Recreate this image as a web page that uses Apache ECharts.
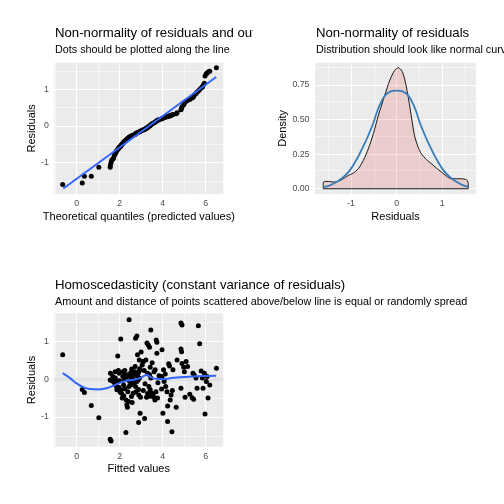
<!DOCTYPE html>
<html><head><meta charset="utf-8">
<script src="https://cdn.jsdelivr.net/npm/echarts@6/dist/echarts.min.js"></script>
<style>html,body{margin:0;padding:0;background:#fff}#c{width:504px;height:504px}</style>
</head><body><div id="c"></div>
<script>
// ---------- Panel 1: QQ plot ----------
const qqX = [-0.65,0.26,0.36,0.68,1.03,1.56,1.57,1.60,1.63,1.68,1.71,1.75,1.79,1.80,1.84,1.87,1.91,1.94,1.96,1.98,1.99,2.05,2.07,2.08,2.12,2.15,2.18,2.19,2.21,2.24,2.26,2.29,2.30,2.33,2.36,2.38,2.41,2.43,2.44,2.46,2.49,2.52,2.55,2.58,2.63,2.71,2.72,2.74,2.77,2.80,2.83,2.88,2.92,2.95,2.97,3.05,3.08,3.14,3.16,3.22,3.25,3.27,3.30,3.33,3.36,3.39,3.42,3.45,3.50,3.51,3.58,3.64,3.65,3.69,3.73,3.76,3.78,3.83,3.95,3.97,4.01,4.04,4.07,4.12,4.14,4.20,4.23,4.28,4.32,4.35,4.39,4.43,4.48,4.63,4.67,4.85,4.88,4.90,4.98,5.01,5.04,5.09,5.16,5.26,5.37,5.41,5.44,5.47,5.55,5.60,5.66,5.72,5.79,5.85,5.88,5.94,5.97,6.03,6.07,6.11,6.19,6.50];
const qqY = [-1.59,-1.55,-1.37,-1.37,-1.12,-1.12,-1.06,-1.00,-0.93,-0.90,-0.88,-0.80,-0.76,-0.73,-0.70,-0.67,-0.64,-0.62,-0.60,-0.58,-0.57,-0.55,-0.53,-0.51,-0.49,-0.47,-0.45,-0.44,-0.43,-0.41,-0.40,-0.39,-0.38,-0.37,-0.35,-0.34,-0.33,-0.32,-0.31,-0.30,-0.29,-0.28,-0.27,-0.26,-0.25,-0.23,-0.22,-0.21,-0.20,-0.19,-0.18,-0.17,-0.16,-0.15,-0.14,-0.12,-0.11,-0.10,-0.09,-0.07,-0.06,-0.05,-0.04,-0.03,-0.01,0.00,0.01,0.03,0.05,0.06,0.08,0.10,0.11,0.12,0.14,0.15,0.16,0.17,0.19,0.20,0.21,0.22,0.23,0.24,0.25,0.25,0.26,0.27,0.27,0.28,0.29,0.30,0.31,0.33,0.36,0.44,0.48,0.52,0.58,0.62,0.65,0.67,0.70,0.72,0.76,0.78,0.81,0.84,0.88,0.92,0.95,0.99,1.03,1.06,1.10,1.16,1.36,1.42,1.44,1.47,1.49,1.58];
const qqLineX = [-0.62, 6.49];
const qqLineY = [-1.70, 1.33];

// ---------- Panel 2: density ----------
const densX = [-1.61,-1.605,-1.50,-1.39,-1.28,-1.17,-1.06,-0.95,-0.84,-0.73,-0.62,-0.51,-0.40,-0.33,-0.26,-0.15,-0.04,0.04,0.12,0.19,0.26,0.33,0.39,0.47,0.54,0.65,0.76,0.87,0.98,1.09,1.20,1.31,1.42,1.53,1.565,1.57];
const densY = [0,0.048,0.053,0.048,0.053,0.072,0.096,0.113,0.145,0.205,0.289,0.398,0.530,0.603,0.675,0.784,0.856,0.873,0.849,0.772,0.651,0.506,0.386,0.301,0.253,0.212,0.181,0.150,0.121,0.092,0.072,0.072,0.072,0.065,0.048,0];
const normX = [-1.61,-1.45,-1.35,-1.23,-1.13,-1.02,-0.91,-0.80,-0.69,-0.60,-0.51,-0.42,-0.33,-0.25,-0.18,-0.09,0.00,0.09,0.18,0.25,0.33,0.42,0.51,0.60,0.69,0.80,0.91,1.02,1.13,1.23,1.35,1.45,1.57];
const normY = [0.011,0.026,0.043,0.068,0.096,0.136,0.193,0.260,0.334,0.402,0.475,0.565,0.633,0.675,0.694,0.706,0.709,0.706,0.694,0.675,0.633,0.565,0.475,0.402,0.334,0.260,0.193,0.136,0.096,0.068,0.043,0.026,0.014];

// ---------- Panel 3: residuals vs fitted ----------
const fitted = [-0.65,0.26,0.36,0.68,1.03,1.56,1.60,1.57,1.63,1.56,1.68,1.71,1.79,1.80,1.84,1.87,1.91,1.94,1.98,1.99,1.96,2.05,2.07,2.08,2.12,2.18,2.21,2.26,2.24,2.15,2.19,2.30,2.33,2.36,2.41,2.38,2.43,2.46,2.49,2.52,2.29,2.44,2.55,2.58,2.63,2.74,2.80,2.83,2.71,2.77,2.83,2.88,2.92,2.80,2.74,2.88,2.95,2.72,2.89,2.97,2.88,2.95,3.16,3.05,3.08,3.14,3.22,3.25,3.27,3.33,3.39,3.45,3.30,3.39,3.45,3.36,3.42,3.50,3.58,3.42,3.51,3.65,3.70,3.73,3.73,3.69,3.76,3.64,3.83,3.78,3.97,4.01,4.04,4.12,3.97,4.07,4.14,4.20,3.95,4.28,4.32,4.23,4.23,4.39,4.43,4.35,4.48,4.63,4.67,4.85,4.88,4.85,4.90,4.90,4.98,5.01,4.85,5.04,5.09,5.16,5.26,5.37,5.44,5.41,5.47,5.55,5.60,5.66,5.72,5.79,5.85,5.88,5.94,5.97,6.07,6.03,6.11,6.19,6.50,2.31,2.60,2.66,2.52,2.24,2.68,2.86,2.40,1.76,2.02,3.10,3.18,3.30,2.93,2.56,3.00,2.91,3.10,3.55,3.60,2.15,2.76,3.40,1.90,4.45];
const residuals = [0.65,-0.27,-0.35,-0.70,-1.02,-1.59,-1.64,0.16,-0.04,-0.02,0.07,-0.06,0.20,0.03,-0.18,-0.28,0.62,0.23,0.16,-0.04,-0.21,1.07,-0.28,-0.37,-0.50,-0.15,-0.02,0.12,0.23,0.07,-0.44,-0.55,-0.68,-0.74,-0.59,-0.33,-0.19,-0.06,0.07,0.18,-1.41,1.58,-0.46,-0.62,-0.37,1.09,1.15,0.65,0.20,0.12,0.07,0.18,0.03,-0.06,-0.19,-0.27,0.25,0.34,-0.42,-0.48,-1.15,-0.90,-1.04,0.38,0.47,0.23,0.51,-0.48,0.96,0.91,0.85,1.31,0.16,0.12,0.03,-0.19,-0.28,-0.37,-0.48,0.32,0.44,0.25,1.04,0.98,0.69,-0.33,-0.50,-0.55,0.09,-0.09,0.78,-0.90,0.25,0.14,0.07,-0.06,-0.19,-0.33,-0.26,0.41,0.35,-1.12,-0.71,-0.42,-1.39,-0.55,0.25,-0.74,0.51,0.80,0.73,1.49,1.44,0.42,0.32,0.20,-0.24,-0.48,0.47,0.34,-0.40,-0.49,-0.53,0.16,0.11,0.03,-0.24,1.42,0.94,0.22,0.03,-0.24,0.16,-0.92,0.07,-0.06,-0.50,-0.15,0.29,0.05,0.02,-0.10,-0.15,-0.25,0.13,-0.02,0.12,-0.10,-0.34,-0.30,-0.12,-0.38,0.28,0.27,0.72,0.51,0.47,-0.42,0.20,0.20,-0.33,-0.45,-0.05,-0.30];
const loessX = [-0.65,-0.31,0.00,0.31,0.62,1.01,1.40,1.79,2.18,2.57,2.95,3.27,3.42,3.65,4.04,4.51,4.98,5.60,6.49];
const loessY = [0.16,0.03,-0.11,-0.21,-0.26,-0.27,-0.24,-0.15,-0.06,-0.02,0.03,0.11,0.07,0.01,0.00,0.04,0.06,0.08,0.09];

// ---------- ticks / grid breaks ----------
const xTicksA = [0,2,4,6], xMinorA = [-1,1,3,5];
const yTicksA = [-1,0,1], yMinorA = [-1.5,-0.5,0.5,1.5];
const xTicksD = [-1,0,1], xMinorD = [-1.5,-0.5,0.5,1.5];
const yTicksD = [0,0.25,0.5,0.75], yMinorD = [0.125,0.375,0.625,0.875];

const titles = [
  ['Non-normality of residuals and outliers','Dots should be plotted along the line'],
  ['Non-normality of residuals','Distribution should look like normal curve'],
  ['Homoscedasticity (constant variance of residuals)','Amount and distance of points scattered above/below line is equal or randomly spread']
];

const FONT = '"Liberation Sans", Arial, Helvetica, sans-serif';
const zip = (a,b) => a.map((v,i)=>[v,b[i]]);

function gridLines(xi, majX, minX, majY, minY) {
  const d = [];
  minX.forEach(v=>d.push({xAxis:v, lineStyle:{width:0.55}}));
  minY.forEach(v=>d.push({yAxis:v, lineStyle:{width:0.55}}));
  majX.forEach(v=>d.push({xAxis:v, lineStyle:{width:1.1}}));
  majY.forEach(v=>d.push({yAxis:v, lineStyle:{width:1.1}}));
  return {type:'line', xAxisIndex:xi, yAxisIndex:xi, data:[], silent:true, z:1,
    markLine:{z:1, silent:true, animation:false, symbol:['none','none'], label:{show:false},
      emphasis:{disabled:true}, lineStyle:{color:'#ffffff', type:'solid'}, data:d}};
}

function xAx(gi, min, max, ticks, name, fmt) {
  return {type:'value', gridIndex:gi, min, max, name, nameLocation:'middle', nameGap:17,
    nameTextStyle:{color:'#000', fontSize:11, fontFamily:FONT},
    axisLine:{show:false}, splitLine:{show:false},
    axisTick:{show:true, length:2.75, customValues:ticks, lineStyle:{color:'#333333', width:1}},
    axisLabel:{customValues:ticks, color:'#4D4D4D', fontSize:8.8, fontFamily:FONT, margin:5, formatter:fmt||(v=>String(v))}};
}
function yAx(gi, min, max, ticks, name, gap, fmt) {
  return {type:'value', gridIndex:gi, min, max, name, nameLocation:'middle', nameGap:gap,
    nameTextStyle:{color:'#000', fontSize:11, fontFamily:FONT},
    axisLine:{show:false}, splitLine:{show:false},
    axisTick:{show:true, length:2.75, customValues:ticks, lineStyle:{color:'#333333', width:1}},
    axisLabel:{customValues:ticks, color:'#4D4D4D', fontSize:8.8, fontFamily:FONT, margin:5.5, formatter:fmt||(v=>String(v))}};
}

const titleGraphics = [];
function addTitle(left, top, t, sub) {
  titleGraphics.push({type:'text', left, top, silent:true, z:10,
    style:{text:t, font:'13.2px '+FONT, fill:'#000'}});
  titleGraphics.push({type:'text', left, top:top+18, silent:true, z:10,
    style:{text:sub, font:'10.8px '+FONT, fill:'#000'}});
}
addTitle(55, 26.5, titles[0][0], titles[0][1]);
addTitle(316, 26.5, titles[1][0], titles[1][1]);
addTitle(55, 278.5, titles[2][0], titles[2][1]);
// the first panel's title is clipped at the edge of its own viewport (x = 253)
titleGraphics.push({type:'rect', silent:true, z:11, shape:{x:253, y:20, width:60, height:24}, style:{fill:'#ffffff'}});

const chart = echarts.init(document.getElementById('c'), null, {renderer:'canvas'});
chart.setOption({
  animation:false,
  backgroundColor:'#ffffff',
  grid:[
    {left:54.3, top:62.7, width:169, height:131.3, show:true, backgroundColor:'#EBEBEB', borderWidth:0},
    {left:315, top:62.7, width:161, height:131.3, show:true, backgroundColor:'#EBEBEB', borderWidth:0},
    {left:54.3, top:313.3, width:169, height:133.4, show:true, backgroundColor:'#EBEBEB', borderWidth:0}
  ],
  xAxis:[
    xAx(0, -1.04, 6.82, xTicksA, 'Theoretical quantiles (predicted values)'),
    xAx(1, -1.79, 1.74, xTicksD, 'Residuals'),
    xAx(2, -1.04, 6.82, xTicksA, 'Fitted values')
  ],
  yAxis:[
    yAx(0, -1.85, 1.72, yTicksA, 'Residuals', 17),
    yAx(1, -0.038, 0.91, yTicksD, 'Density', 25.5, v=>v.toFixed(2)),
    yAx(2, -1.79, 1.75, yTicksA, 'Residuals', 17)
  ],
  graphic: titleGraphics,
  series:[
    gridLines(0, xTicksA, xMinorA, yTicksA, yMinorA),
    gridLines(1, xTicksD, xMinorD, yTicksD, yMinorD),
    gridLines(2, xTicksA, xMinorA, yTicksA, yMinorA),
    // panel 1
    {type:'scatter', xAxisIndex:0, yAxisIndex:0, z:3, symbolSize:5, itemStyle:{color:'#000', opacity:1}, data:zip(qqX,qqY)},
    {type:'line', xAxisIndex:0, yAxisIndex:0, z:4, showSymbol:false, lineStyle:{color:'#3366FF', width:2}, data:zip(qqLineX,qqLineY)},
    // panel 2
    {type:'line', xAxisIndex:1, yAxisIndex:1, z:3, showSymbol:false, smooth:0.25,
      lineStyle:{color:'#000', width:0.9}, areaStyle:{color:'rgba(228,26,28,0.2)', origin:0}, data:zip(densX,densY)},
    {type:'line', xAxisIndex:1, yAxisIndex:1, z:3, showSymbol:false, lineStyle:{color:'#000', width:0.9},
      data:[[densX[0],0],[densX[densX.length-1],0]]},
    {type:'line', xAxisIndex:1, yAxisIndex:1, z:4, showSymbol:false, smooth:true, lineStyle:{color:'#377EB8', width:1.8}, data:zip(normX,normY)},
    // panel 3
    {type:'line', xAxisIndex:2, yAxisIndex:2, z:2, showSymbol:false, lineStyle:{color:'#E2E2E2', width:3.5},
      data:[[-1.04,0],[6.82,0]]},
    {type:'scatter', xAxisIndex:2, yAxisIndex:2, z:3, symbolSize:5, itemStyle:{color:'#000', opacity:1}, data:zip(fitted,residuals)},
    {type:'line', xAxisIndex:2, yAxisIndex:2, z:4, showSymbol:false, smooth:true, lineStyle:{color:'#3366FF', width:2}, data:zip(loessX,loessY)}
  ]
});
</script></body></html>
